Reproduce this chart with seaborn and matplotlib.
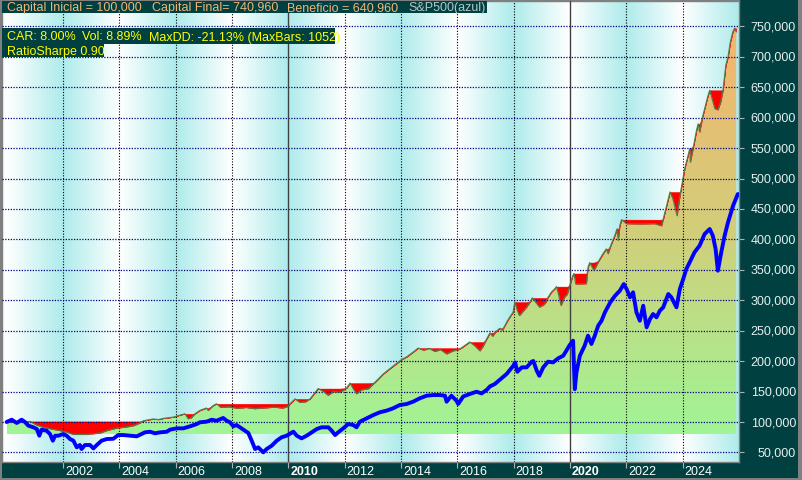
import numpy as np
import pandas as pd
import matplotlib
matplotlib.use("Agg")
import matplotlib.pyplot as plt
import seaborn as sns
from matplotlib.colors import LinearSegmentedColormap
from matplotlib.transforms import blended_transform_factory, ScaledTranslation
from matplotlib.patches import Rectangle

# ---------------- data (values in thousands) ----------------
eq_year = [2000.0, 2000.2, 2000.45, 2000.65, 2000.83, 2001.07, 2001.3, 2001.54, 2001.89, 2002.13,
           2002.37, 2002.6, 2002.84, 2003.1, 2003.31, 2003.55, 2003.9, 2004.26, 2004.5, 2004.73,
           2004.85, 2005.2, 2005.4, 2005.56, 2005.91, 2006.2, 2006.33, 2006.44, 2006.55, 2006.68,
           2006.86, 2007.09, 2007.15, 2007.33, 2007.45, 2007.6, 2007.9, 2008.2, 2008.5, 2008.8,
           2009.1, 2009.5, 2009.8, 2010.0, 2010.06, 2010.24, 2010.4, 2010.6, 2010.77, 2011.06,
           2011.25, 2011.41, 2011.6, 2011.85, 2012.07, 2012.19, 2012.3, 2012.42, 2012.6, 2012.85,
           2013.07, 2013.37, 2013.6, 2013.84, 2014.02, 2014.2, 2014.43, 2014.61, 2014.8, 2015.0,
           2015.2, 2015.4, 2015.62, 2015.85, 2016.05, 2016.15, 2016.44, 2016.6, 2016.8, 2016.92,
           2017.04, 2017.16, 2017.25, 2017.39, 2017.51, 2017.6, 2017.75, 2017.86, 2017.98, 2018.04,
           2018.13, 2018.2, 2018.35, 2018.46, 2018.6, 2018.66, 2018.78, 2018.91, 2019.05, 2019.15,
           2019.22, 2019.34, 2019.46, 2019.52, 2019.6, 2019.68, 2019.8, 2019.9, 2019.99, 2020.09,
           2020.14, 2020.2, 2020.4, 2020.58, 2020.64, 2020.7, 2020.85, 2021.03, 2021.17, 2021.29,
           2021.35, 2021.47, 2021.59, 2021.67, 2021.71, 2021.77, 2021.83, 2022.0, 2022.5, 2023.0,
           2023.25, 2023.31, 2023.43, 2023.55, 2023.65, 2023.8, 2023.88, 2023.93, 2024.0, 2024.07,
           2024.19, 2024.25, 2024.27, 2024.39, 2024.49, 2024.55, 2024.6, 2024.72, 2024.84, 2024.9,
           2024.96, 2025.05, 2025.14, 2025.25, 2025.35, 2025.43, 2025.53, 2025.61, 2025.69, 2025.78,
           2025.84, 2025.9]
eq_value = [100, 100.5, 100, 100.5, 101, 95, 91.5, 89, 86, 83.5,
            79.7, 79.7, 79.7, 81, 82, 86, 90, 92, 94, 98.5,
            102, 105, 104, 106, 108, 112, 113.5, 105.5, 107, 113.5,
            119, 123, 119, 127, 130, 124, 125, 122.5, 124, 122,
            123, 124.5, 123, 126, 130, 138, 132.5, 133, 138, 155,
            150, 144, 150, 149, 156, 164, 155, 146.5, 153, 155,
            165, 179, 187.5, 196, 202.5, 207, 215, 221.5, 218, 221,
            216, 219, 212, 217, 219, 222, 231.5, 226, 217, 225,
            236.5, 246.5, 241, 249.5, 254, 250.5, 264, 272.5, 280.5, 297,
            283, 275, 283, 289, 298.5, 304, 297, 289, 292, 297,
            305, 313.5, 319, 322.5, 308, 291.5, 305, 310, 324.5, 339.5,
            344, 327, 327, 327.5, 354.5, 362, 349, 365.5, 376.5, 384.5,
            376.5, 393, 406.5, 417.5, 398.5, 423, 432.5, 426, 425.5, 426,
            422.5, 433.5, 456, 478, 467, 439, 465, 479, 497, 516,
            538, 549, 527, 554.5, 579, 590, 576.5, 604, 626, 636.5,
            645, 630, 615, 613, 626, 645, 686, 700, 724, 741,
            747, 741]

sp_year = [2000.0, 2000.18, 2000.36, 2000.53, 2000.65, 2000.77, 2000.95, 2001.07, 2001.16, 2001.24,
           2001.42, 2001.54, 2001.64, 2001.72, 2001.83, 2002.01, 2002.13, 2002.25, 2002.37, 2002.49,
           2002.6, 2002.66, 2002.78, 2002.96, 2003.08, 2003.2, 2003.37, 2003.55, 2003.79, 2003.96,
           2004.14, 2004.38, 2004.62, 2004.79, 2004.91, 2005.09, 2005.27, 2005.44, 2005.68, 2005.8,
           2006.04, 2006.27, 2006.51, 2006.75, 2006.86, 2007.1, 2007.28, 2007.45, 2007.69, 2007.81,
           2007.93, 2008.05, 2008.16, 2008.28, 2008.46, 2008.58, 2008.7, 2008.82, 2008.93, 2009.11,
           2009.23, 2009.41, 2009.59, 2009.76, 2009.94, 2010.18, 2010.3, 2010.47, 2010.65, 2010.83,
           2011.01, 2011.18, 2011.42, 2011.54, 2011.66, 2011.77, 2011.95, 2012.13, 2012.31, 2012.42,
           2012.54, 2012.78, 2013.02, 2013.25, 2013.49, 2013.72, 2013.96, 2014.2, 2014.43, 2014.67,
           2014.91, 2015.14, 2015.38, 2015.56, 2015.62, 2015.79, 2015.97, 2016.03, 2016.21, 2016.44,
           2016.68, 2016.86, 2017.04, 2017.16, 2017.33, 2017.51, 2017.75, 2017.99, 2018.05, 2018.13,
           2018.29, 2018.46, 2018.64, 2018.7, 2018.82, 2018.91, 2019.05, 2019.22, 2019.4, 2019.58,
           2019.76, 2019.87, 2019.99, 2020.11, 2020.17, 2020.23, 2020.35, 2020.52, 2020.64, 2020.76,
           2020.88, 2021.0, 2021.12, 2021.24, 2021.43, 2021.6, 2021.77, 2021.91, 2022.01, 2022.13,
           2022.24, 2022.36, 2022.48, 2022.6, 2022.72, 2022.84, 2022.95, 2023.07, 2023.19, 2023.31,
           2023.49, 2023.6, 2023.78, 2023.9, 2024.02, 2024.13, 2024.25, 2024.42, 2024.6, 2024.78,
           2024.96, 2025.07, 2025.17, 2025.25, 2025.37, 2025.49, 2025.61, 2025.79, 2025.96]
sp_value = [100, 103.8, 98.4, 103.8, 100, 94, 91.3, 88.5, 77.5, 87.4,
            85.8, 80.3, 69.3, 77.5, 77.5, 80.3, 77.5, 72, 69.3, 58.4,
            62.2, 55.6, 62.2, 62.2, 56.7, 62.2, 69.3, 72, 72.5, 78.6,
            78.6, 77.5, 76.5, 80.3, 83, 84, 81.4, 83, 84, 87.4,
            89.6, 89.6, 92.9, 96.7, 99.5, 100.6, 103.8, 102.1, 106.6, 102.1,
            99.5, 92.9, 95.1, 91.3, 85.8, 82, 69.3, 55.6, 58.4, 50.2,
            55.6, 61.1, 69.3, 74.9, 77.5, 84.1, 77.5, 73.2, 77.5, 83,
            88.5, 91.3, 91.3, 85.8, 78.6, 83, 89.6, 96.7, 95, 91.3,
            100.5, 106, 111.5, 116, 118.7, 122.5, 128, 129.6, 133.4, 139,
            143.2, 144.3, 144.3, 143.2, 133.4, 143.2, 135, 129.6, 142, 146,
            149.8, 147, 152.6, 158.6, 162.4, 169.5, 178.9, 192.5, 198, 182.6,
            189.8, 189.8, 199.1, 200.2, 184.3, 176, 189.8, 199.1, 198, 204.6,
            208.9, 217.1, 226.5, 233.6, 154, 181.7, 208.9, 225.4, 241.8, 228.2,
            241.8, 258.2, 266.4, 280.2, 296.7, 307.5, 315.7, 326.7, 318.5, 304.9,
            313.1, 280.2, 266.4, 291.1, 255.6, 269.2, 277.4, 272, 282.9, 288.4,
            310.3, 304.9, 288.4, 318.5, 334.9, 351.4, 362.4, 378.8, 389.7, 408.9,
            417.1, 406.1, 384.2, 348.6, 378.8, 406.1, 428.1, 455.5, 474.6]

year_ticks = [2002, 2004, 2006, 2008, 2010, 2012, 2014, 2016, 2018, 2020, 2022, 2024]
year_labels = ["2002", "2004", "2006", "2008", "2010", "2012", "2014", "2016", "2018", "2020", "2022", "2024"]
bold_years = [2010, 2020]
value_ticks = [50, 100, 150, 200, 250, 300, 350, 400, 450, 500, 550, 600, 650, 700, 750]
value_labels = ["50,000", "100,000", "150,000", "200,000", "250,000", "300,000", "350,000", "400,000",
                "450,000", "500,000", "550,000", "600,000", "650,000", "700,000", "750,000"]
header_parts = ["Capital Inicial = 100,000", "Capital Final= 740,960", "Beneficio = 640,960"]
benchmark_label = "S&P500(azul)"
stats_parts = ["CAR: 8.00%", "Vol: 8.89%", "MaxDD: -21.13% (MaxBars: 1052)"]
sharpe_label = "RatioSharpe 0.90"

# ---------------- style ----------------
sns.set_style("white")
plt.rcParams['font.family'] = ['Liberation Sans', 'DejaVu Sans']

W, H = 802, 481
TEAL = '#004040'
GRAY = '#808080'

def fx(px):
    return px / W

def fy(py):
    return 1 - py / H

fig = plt.figure(figsize=(W / 100, H / 100), dpi=100, facecolor=GRAY)

# side panels
fig.add_artist(Rectangle((fx(740), fy(479)), fx(798) - fx(740), fy(1) - fy(479),
                         transform=fig.transFigure, facecolor=TEAL, edgecolor='none', zorder=-2))
fig.add_artist(Rectangle((fx(2), fy(479)), fx(740) - fx(2), fy(464) - fy(479),
                         transform=fig.transFigure, facecolor=TEAL, edgecolor='none', zorder=-2))

ax = fig.add_axes([fx(2), fy(463), fx(739) - fx(2), fy(2) - fy(463)])
XMIN, XMAX = 1999.835, 2026.0
YMIN, YMAX = 34.3, 791.7

# background vertical gradient bands (white <-> cyan)
xs = np.linspace(XMIN, XMAX, 1500)
t = 1 - np.abs(((xs - 2000) % 4) / 2 - 1)
white = np.array([1.0, 1.0, 1.0])
cyan = np.array([174, 235, 235]) / 255
bg = white[None, :] + (cyan - white)[None, :] * t[:, None]
ax.imshow(bg[None, :, :], extent=[XMIN, XMAX, YMIN, YMAX], aspect='auto',
          interpolation='bilinear', zorder=0)

# equity gradient area
eq_x = np.array(eq_year)
eq_v = np.array(eq_value)
base = eq_v.min()
poly = ax.fill_between(eq_x, eq_v, base, facecolor='none', edgecolor='none', zorder=1)
cmap = LinearSegmentedColormap.from_list('eq', ['#A0F596', '#D2CE7A', '#F5B46E'])
grad = np.linspace(0, 1, 256)[:, None]
im = ax.imshow(grad, extent=[eq_x[0], eq_x[-1], base, 750], origin='lower', cmap=cmap,
               aspect='auto', zorder=1, interpolation='bilinear')
im.set_clip_path(poly.get_paths()[0], transform=ax.transData)

# drawdown (red) between running peak and equity
peak = np.maximum.accumulate(eq_v)
ax.fill_between(eq_x, eq_v, peak, facecolor='#FF0000', edgecolor='#FF0000', lw=0.3, zorder=2)

# grid
for v in value_ticks:
    ax.axhline(v, color='#000080', lw=0.9, ls=(0, (1, 1.2)), zorder=3)
for yr in year_ticks:
    if yr in bold_years:
        ax.axvline(yr, color='#404040', lw=1.0, zorder=3)
    else:
        ax.axvline(yr, color='#000000', lw=0.8, ls=(0, (1, 1.5)), zorder=3)

# lines
df_eq = pd.DataFrame({'year': eq_year, 'value': eq_value})
df_sp = pd.DataFrame({'year': sp_year, 'value': sp_value})
sns.lineplot(data=df_eq, x='year', y='value', ax=ax, color='#4E7D4E', linewidth=0.8, zorder=4)
sns.lineplot(data=df_sp, x='year', y='value', ax=ax, color='#0000FF', linewidth=2.8, zorder=5)

ax.set_xlim(XMIN, XMAX)
ax.set_ylim(YMIN, YMAX)
ax.set_xlabel('')
ax.set_ylabel('')
for s in ax.spines.values():
    s.set_color(GRAY)
    s.set_linewidth(1.0)

# ticks
ax.set_xticks(year_ticks)
ax.set_xticklabels([])
ax.yaxis.tick_right()
ax.set_yticks(value_ticks)
ax.set_yticklabels([])
ax.tick_params(axis='x', direction='out', length=4.5, width=0.8, color='#B0B0B0', bottom=True)
ax.tick_params(axis='y', direction='out', length=3.5, width=0.8, color='#B0B0B0', right=True, left=False)

xtrans = blended_transform_factory(ax.transData, ax.transAxes) + \
    ScaledTranslation(2 / 100, 0, fig.dpi_scale_trans)
yb = (463 - 472.5) / 461
for yr, lab in zip(year_ticks, year_labels):
    ax.text(yr, yb, lab, transform=xtrans, ha='left', va='center', fontsize=9,
            color='white', fontweight='bold' if yr in bold_years else 'normal', clip_on=False)

ytrans = blended_transform_factory(ax.transAxes, ax.transData)
xr = (796 - 2) / 737
for v, lab in zip(value_ticks, value_labels):
    ax.text(xr, v, lab, transform=ytrans, ha='right', va='center', fontsize=9,
            color='#E4F0F0', clip_on=False)

# header boxes
def box(x0, y0, x1, y1):
    fig.add_artist(Rectangle((fx(x0), fy(y1)), fx(x1) - fx(x0), fy(y0) - fy(y1),
                             transform=fig.transFigure, facecolor=TEAL, edgecolor='none', zorder=10))

box(2, 2, 487, 14)
box(2, 29, 335, 45)
box(2, 45, 104, 58)

for xp, txt in zip([7, 152, 287], header_parts):
    fig.text(fx(xp), fy(8.3), txt, ha='left', va='center', fontsize=9, color='#F0B478', zorder=11)
fig.text(fx(408), fy(8.3), benchmark_label, ha='left', va='center', fontsize=9, color='#B4C6C6', zorder=11)
for xp, txt in zip([7, 82, 149], stats_parts):
    fig.text(fx(xp), fy(37.5), txt, ha='left', va='center', fontsize=9, color='#FFFF00', zorder=11)
fig.text(fx(7), fy(52.5), sharpe_label, ha='left', va='center', fontsize=9, color='#FFFF00', zorder=11)

fig.savefig('out.png', dpi=100, facecolor=fig.get_facecolor())
